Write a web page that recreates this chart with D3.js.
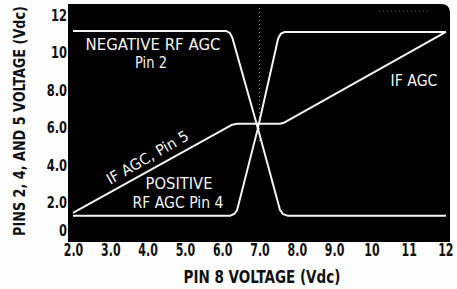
<!DOCTYPE html>
<html><head><meta charset="utf-8">
<script src="https://cdn.jsdelivr.net/npm/d3@7"></script>
<style>
html,body{margin:0;padding:0;background:#fdfdfd;}
svg{display:block;}
text{font-family:"Liberation Sans Narrow","DejaVu Sans Condensed","Liberation Sans",sans-serif;}
</style></head>
<body><svg id="c" width="457" height="289"></svg>
<script>
const xTicks = [2,3,4,5,6,7,8,9,10,11,12];
const xTickLabels = ["2.0","3.0","4.0","5.0","6.0","7.0","8.0","9.0","10","11","12"];
const yTicks = [0,2,4,6,8,10,12];
const yTickLabels = ["0","2.0","4.0","6.0","8.0","10","12"];

// NEGATIVE RF AGC, Pin 2
const pin2X = [2.0, 6.1, 6.2, 6.27, 6.95, 7.55, 7.63, 7.75, 12.0];
const pin2Y = [11.15, 11.15, 11.05, 10.8, 6.0, 1.6, 1.38, 1.3, 1.3];
// POSITIVE RF AGC, Pin 4
const pin4X = [2.0, 6.22, 6.33, 6.4, 6.95, 7.5, 7.57, 7.68, 12.0];
const pin4Y = [1.3, 1.3, 1.4, 1.6, 5.9, 10.75, 11.0, 11.1, 11.1];
// IF AGC, Pin 5
const pin5X = [2.0, 6.27, 6.4, 7.55, 7.65, 12.0];
const pin5Y = [1.45, 6.15, 6.2, 6.2, 6.25, 11.1];

const svg = d3.select("#c");
const x = d3.scaleLinear().domain([2,12]).range([73,446]);
const y = d3.scaleLinear().domain([0,12]).range([240,15]);

// black plot panel with rounded top-right corner
const L=68, T=4, R=450, B=242, r=9;
svg.append("path")
  .attr("d",`M${L},${T}H${R-r}Q${R},${T} ${R},${T+r}V${B}H${L}Z`)
  .attr("fill","#000");

// faint dotted guides
svg.append("line")
  .attr("x1",x(7)).attr("x2",x(7)).attr("y1",T+4).attr("y2",y(5.2))
  .attr("stroke","#999").attr("stroke-width",1).attr("stroke-dasharray","1,3");
svg.append("line")
  .attr("x1",x(10.2)).attr("x2",x(11.6)).attr("y1",T+7).attr("y2",T+7)
  .attr("stroke","#666").attr("stroke-width",1).attr("stroke-dasharray","1,3");

const line = d3.line().x(d=>x(d[0])).y(d=>y(d[1]));
function series(xs, ys){ return xs.map((v,i)=>[v, ys[i]]); }
[[pin2X,pin2Y],[pin4X,pin4Y],[pin5X,pin5Y]].forEach(([xs,ys])=>{
  svg.append("path").attr("d",line(series(xs,ys)))
    .attr("fill","none").attr("stroke","#f4f4f4").attr("stroke-width",2)
    .attr("stroke-linejoin","round");
});

// x axis labels (condensed via horizontal scale)
const xAxis = d3.axisBottom(x).tickValues(xTicks)
  .tickFormat((d,i)=>xTickLabels[i]).tickSize(0).tickPadding(0);
const gx = svg.append("g").attr("transform","translate(0,244)").call(xAxis);
gx.select(".domain").remove();
gx.selectAll("text").attr("font-size",17).attr("font-weight","bold")
  .attr("fill","#111").attr("font-family",null).attr("dy","0.71em")
  .attr("transform","scale(0.72,1)");
gx.selectAll(".tick").filter(d=>d===12).select("text").attr("x",-1);

// y axis labels
const yAxis = d3.axisLeft(y).tickValues(yTicks)
  .tickFormat((d,i)=>yTickLabels[i]).tickSize(0).tickPadding(0);
const gy = svg.append("g").attr("transform","translate(67,0)").call(yAxis);
gy.select(".domain").remove();
gy.selectAll("text").attr("font-size",16).attr("font-weight","bold")
  .attr("fill","#111").attr("font-family",null)
  .attr("dy",(d)=> d===0 ? "-0.3em" : "0.34em")
  .attr("transform","scale(0.8,1)");

// fit a text to a target width by a horizontal scale
function fitText(g, t, len, size, opts={}){
  const e = g.append("text").attr("x",0).attr("y",0)
    .attr("text-anchor","middle").attr("font-size",size)
    .attr("font-weight",opts.weight||"normal").attr("fill",opts.fill||"#111").text(t);
  const w = e.node().getComputedTextLength();
  e.attr("transform",`scale(${len/w},1)`);
  return e;
}

// axis titles
fitText(svg.append("g").attr("transform","translate(262,283)"),
  "PIN 8 VOLTAGE (Vdc)",157,17,{weight:"bold"});
fitText(svg.append("g").attr("transform","translate(25,121) rotate(-90)"),
  "PINS 2, 4, AND 5 VOLTAGE (Vdc)",230,16,{weight:"bold"});

// in-plot labels
function lab(t,xx,yy,len,rot){
  const g = svg.append("g").attr("transform",`translate(${xx},${yy})` + (rot!==undefined?` rotate(${rot})`:""));
  return fitText(g,t,len,15,{fill:"#f4f4f4"});
}
lab("NEGATIVE RF AGC",153,50,135);
lab("Pin 2",151,68,32);
lab("IF AGC, Pin 5",150,162,92,-30);
lab("POSITIVE",179,189,67);
lab("RF AGC Pin 4",178,208,91);
lab("IF AGC",414,86,47);
</script></body></html>
